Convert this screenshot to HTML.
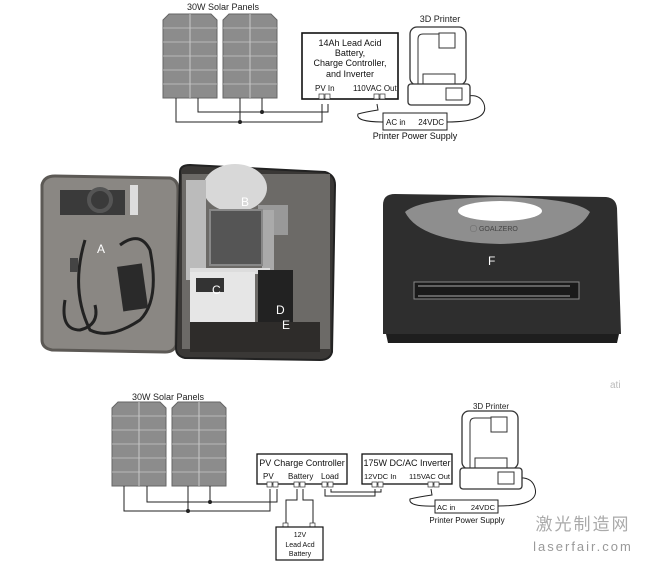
<!DOCTYPE html>
<html><head><meta charset="utf-8"><style>
html,body{margin:0;padding:0;background:#fff;}
svg{display:block;font-family:"Liberation Sans","Noto Sans CJK SC",sans-serif;}
</style></head><body>
<svg width="646" height="567" viewBox="0 0 646 567" xmlns="http://www.w3.org/2000/svg">
<defs>
<g id="panel">
  <path d="M0,6 L6,0 L48,0 L54,6 L54,84 L0,84 Z" fill="#8c8c8c" stroke="#666" stroke-width="1"/>
  <line x1="27" y1="0" x2="27" y2="84" stroke="#c8c8c8" stroke-width="1"/>
  <g stroke="#c8c8c8" stroke-width="0.8">
  <line x1="0" y1="14" x2="54" y2="14"/><line x1="0" y1="28" x2="54" y2="28"/><line x1="0" y1="42" x2="54" y2="42"/><line x1="0" y1="56" x2="54" y2="56"/><line x1="0" y1="70" x2="54" y2="70"/></g>
</g>
<g id="printer">
  <rect x="2" y="0" width="56" height="58" rx="7" fill="#fff" stroke="#333" stroke-width="1.3"/>
  <path d="M10,58 L10,12 Q10,7 15,7 L40,7" fill="none" stroke="#333" stroke-width="1"/>
  <rect x="31" y="6" width="16" height="15" fill="#fff" stroke="#333" stroke-width="1"/>
  <rect x="15" y="47" width="32" height="10" fill="#fff" stroke="#333" stroke-width="1"/>
  <rect x="0" y="57" width="62" height="21" rx="3" fill="#fff" stroke="#333" stroke-width="1.3"/>
  <rect x="38" y="61" width="16" height="12" fill="#fff" stroke="#333" stroke-width="1"/>
</g>
</defs>

<!-- TOP DIAGRAM -->
<text x="223" y="10" font-size="9" text-anchor="middle" fill="#222">30W Solar Panels</text>
<use href="#panel" x="163" y="14"/>
<use href="#panel" x="223" y="14"/>
<g stroke="#222" stroke-width="1" fill="none">
<polyline points="176,98 176,122 322,122 322,104"/>
<polyline points="198,98 198,112 328,112 328,104"/>
<line x1="240" y1="98" x2="240" y2="122"/>
<line x1="262" y1="98" x2="262" y2="112"/>
<path d="M377,104 L378,110 Q365,112 358,114 Q355,122 384,122"/>
<path d="M447,122 Q490,122 484,104 Q480,94 468,96"/>
</g>
<circle cx="240" cy="122" r="2" fill="#222"/><circle cx="262" cy="112" r="2" fill="#222"/>
<rect x="302" y="33" width="96" height="66" fill="#fff" stroke="#111" stroke-width="1.6"/>
<g font-size="9" text-anchor="middle" fill="#111">
<text x="350" y="46">14Ah Lead Acid</text><text x="350" y="56">Battery,</text>
<text x="350" y="66">Charge Controller,</text><text x="350" y="77">and Inverter</text></g>
<text x="315" y="91" font-size="8" fill="#111">PV In</text>
<text x="353" y="91" font-size="8" fill="#111">110VAC Out</text>
<rect x="319" y="94" width="5" height="5" fill="#fff" stroke="#333" stroke-width=".7"/><rect x="325" y="94" width="5" height="5" fill="#fff" stroke="#333" stroke-width=".7"/>
<rect x="374" y="94" width="5" height="5" fill="#fff" stroke="#333" stroke-width=".7"/><rect x="380" y="94" width="5" height="5" fill="#fff" stroke="#333" stroke-width=".7"/>
<use href="#printer" x="408" y="27"/>
<text x="440" y="22" font-size="9" text-anchor="middle" fill="#222">3D Printer</text>
<rect x="383" y="113" width="64" height="17" fill="#fff" stroke="#222" stroke-width="1"/>
<text x="386" y="125" font-size="8" fill="#111">AC in</text><text x="444" y="125" font-size="8" text-anchor="end" fill="#111">24VDC</text>
<text x="415" y="139" font-size="9" text-anchor="middle" fill="#111">Printer Power Supply</text>

<!-- PHOTOS (approximate) -->
<g>
<path d="M42,185 Q44,176 55,176 L170,178 Q178,180 178,190 L176,345 Q174,352 165,352 L52,350 Q42,348 42,340 Z" fill="#8a8783" stroke="#5c5955" stroke-width="3"/>
<rect x="60" y="190" width="65" height="25" fill="#3a3a3a"/>
<circle cx="100" cy="200" r="11" fill="none" stroke="#555" stroke-width="4"/>
<rect x="130" y="185" width="8" height="30" fill="#ddd"/>
<path d="M85,240 Q70,290 90,330 Q110,340 140,320 Q160,300 150,250 Q140,230 120,245" fill="none" stroke="#222" stroke-width="3"/>
<rect x="120" y="265" width="25" height="45" fill="#2a2a2a" transform="rotate(-8 132 287)"/>
<path d="M65,300 Q60,330 80,330 Q100,325 95,305" fill="none" stroke="#222" stroke-width="3"/>
<rect x="70" y="258" width="8" height="14" fill="#444"/>
<text x="97" y="253" font-size="12" fill="#fff">A</text>
<path d="M180,172 Q180,165 190,165 L325,172 Q335,175 335,185 L332,352 Q330,360 320,360 L185,358 Q176,356 176,348 Z" fill="#3a3836" stroke="#222" stroke-width="2"/>
<rect x="182" y="174" width="148" height="175" fill="#6c6a67"/>
<ellipse cx="235" cy="188" rx="32" ry="24" fill="#d8d8d8"/>
<rect x="186" y="180" width="20" height="100" fill="#bbb"/>
<rect x="258" y="205" width="30" height="30" fill="#999"/>
<rect x="262" y="210" width="12" height="70" fill="#aaa"/>
<rect x="210" y="210" width="52" height="55" fill="#555" stroke="#888" stroke-width="2"/>
<rect x="190" y="268" width="80" height="6" fill="#ddd"/>
<rect x="190" y="272" width="65" height="50" fill="#e6e6e6"/>
<rect x="196" y="278" width="28" height="14" fill="#333"/>
<rect x="258" y="270" width="35" height="65" fill="#222"/>
<rect x="190" y="322" width="130" height="30" fill="#2e2c2a"/>
<text x="241" y="206" font-size="12" fill="#fff">B</text>
<text x="212" y="294" font-size="12" fill="#fff">C</text>
<text x="276" y="314" font-size="12" fill="#fff">D</text>
<text x="282" y="329" font-size="12" fill="#fff">E</text>
</g>
<g>
<path d="M383,205 Q383,194 395,194 L606,197 Q616,198 617,208 L621,334 L383,334 Z" fill="#2e2e2e"/>
<path d="M386,334 L619,334 L617,343 L388,343 Z" fill="#1e1e1e"/>
<path d="M405,212 Q420,198 500,197 Q575,198 590,212 Q575,242 500,244 Q420,242 405,212 Z" fill="#8e8e8e"/>
<ellipse cx="500" cy="211" rx="42" ry="10" fill="#fff"/>
<text x="470" y="231" font-size="7" fill="#444">◯ GOALZERO</text>
<rect x="414" y="282" width="165" height="17" fill="#1a1a1a" stroke="#888" stroke-width="1"/>
<line x1="418" y1="286" x2="570" y2="286" stroke="#aaa"/><line x1="418" y1="296" x2="570" y2="296" stroke="#aaa"/>
<text x="488" y="265" font-size="12" fill="#fff">F</text>
</g>
<text x="610" y="388" font-size="10" fill="#bbb">ati</text>

<!-- BOTTOM DIAGRAM -->
<text x="168" y="400" font-size="9" text-anchor="middle" fill="#222">30W Solar Panels</text>
<use href="#panel" x="112" y="402" transform=""/>
<use href="#panel" x="172" y="402"/>
<g stroke="#222" stroke-width="1" fill="none">
<polyline points="124,486 124,511 270,511 270,489"/>
<polyline points="147,486 147,502 277,502 277,489"/>
<line x1="188" y1="486" x2="188" y2="511"/>
<line x1="210" y1="486" x2="210" y2="502"/>
<polyline points="297,489 297,500 286,500 286,523"/>
<polyline points="303,489 303,500 313,500 313,523"/>
<polyline points="325,489 325,496 375,496 375,489"/>
<polyline points="331,489 331,492 381,492 381,489"/>
<path d="M431,489 L432,495 Q418,497 410,499 Q408,507 436,506"/>
<path d="M498,506 Q540,506 535,488 Q532,477 519,478"/>
</g>
<circle cx="188" cy="511" r="2" fill="#222"/><circle cx="210" cy="502" r="2" fill="#222"/>
<rect x="257" y="454" width="90" height="30" fill="#fff" stroke="#111" stroke-width="1.3"/>
<text x="302" y="466" font-size="9" text-anchor="middle" fill="#111">PV Charge Controller</text>
<text x="263" y="479" font-size="8" fill="#111">PV</text>
<text x="288" y="479" font-size="8" fill="#111">Battery</text>
<text x="321" y="479" font-size="8" fill="#111">Load</text>
<rect x="362" y="454" width="90" height="30" fill="#fff" stroke="#111" stroke-width="1.3"/>
<text x="407" y="466" font-size="9" text-anchor="middle" fill="#111">175W DC/AC Inverter</text>
<text x="364" y="479" font-size="7.5" fill="#111">12VDC In</text>
<text x="450" y="479" font-size="7.5" text-anchor="end" fill="#111">115VAC Out</text>
<g fill="#fff" stroke="#333" stroke-width=".7">
<rect x="267" y="482" width="5" height="5"/><rect x="273" y="482" width="5" height="5"/>
<rect x="294" y="482" width="5" height="5"/><rect x="300" y="482" width="5" height="5"/>
<rect x="322" y="482" width="5" height="5"/><rect x="328" y="482" width="5" height="5"/>
<rect x="372" y="482" width="5" height="5"/><rect x="378" y="482" width="5" height="5"/>
<rect x="428" y="482" width="5" height="5"/><rect x="434" y="482" width="5" height="5"/>
<rect x="283" y="523" width="5" height="5"/><rect x="310" y="523" width="5" height="5"/></g>
<rect x="276" y="527" width="47" height="33" fill="#fff" stroke="#111" stroke-width="1.2"/>
<g font-size="7" text-anchor="middle" fill="#111"><text x="300" y="537">12V</text><text x="300" y="547">Lead Acd</text><text x="300" y="556">Battery</text></g>
<use href="#printer" x="460" y="411" transform=""/>
<text x="491" y="409" font-size="8" text-anchor="middle" fill="#222">3D Printer</text>
<rect x="435" y="500" width="63" height="13" fill="#fff" stroke="#222" stroke-width="1"/>
<text x="437" y="510" font-size="7.5" fill="#111">AC in</text><text x="495" y="510" font-size="7.5" text-anchor="end" fill="#111">24VDC</text>
<text x="467" y="523" font-size="8" text-anchor="middle" fill="#111">Printer Power Supply</text>
<text x="583" y="530" font-size="17" text-anchor="middle" fill="#aaa" letter-spacing="2">激光制造网</text>
<text x="583" y="551" font-size="13" text-anchor="middle" fill="#999" letter-spacing="2">laserfair.com</text>
</svg>
</body></html>
